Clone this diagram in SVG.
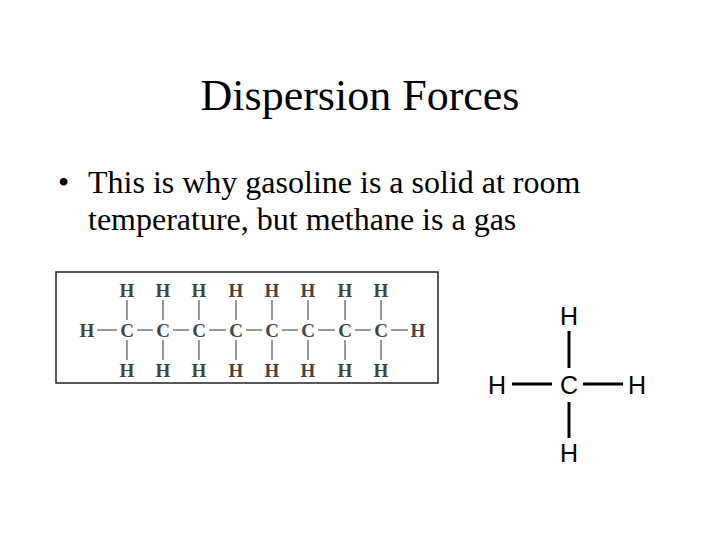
<svg xmlns="http://www.w3.org/2000/svg" width="720" height="540" viewBox="0 0 720 540">
<style>
.t{font-family:"Liberation Serif",serif;fill:#000}
.o{font-family:"Liberation Serif",serif;font-size:19px;font-weight:bold;fill:#444;text-anchor:middle}
.ob{stroke:#777;stroke-width:1.5}
.m{font-family:"Liberation Sans",sans-serif;font-size:25px;fill:#000;text-anchor:middle}
.mb{stroke:#000;stroke-width:3}
</style>
<rect width="720" height="540" fill="#fff"/>
<text class="t" x="360" y="110" font-size="44" text-anchor="middle">Dispersion Forces</text>
<text class="t" x="58" y="193" font-size="32">•</text>
<text class="t" x="88" y="193" font-size="32">This is why gasoline is a solid at room</text>
<text class="t" x="88" y="230" font-size="32">temperature, but methane is a gas</text>
<g id="octane">
<rect x="56" y="272" width="382" height="111" fill="#fff" stroke="#222" stroke-width="1.5"/>
<g class="ob">
<line x1="97" y1="330" x2="117" y2="330"/><line x1="391" y1="330" x2="408" y2="330"/>
<line x1="137" y1="330" x2="153" y2="330"/><line x1="173" y1="330" x2="189" y2="330"/><line x1="209" y1="330" x2="226" y2="330"/><line x1="246" y1="330" x2="262" y2="330"/><line x1="282" y1="330" x2="298" y2="330"/><line x1="318" y1="330" x2="335" y2="330"/><line x1="355" y1="330" x2="371" y2="330"/>
<path d="M127 300V320M127 340V360M163 300V320M163 340V360M199 300V320M199 340V360M236 300V320M236 340V360M272 300V320M272 340V360M308 300V320M308 340V360M345 300V320M345 340V360M381 300V320M381 340V360"/>
</g>
<g class="o">
<text x="87" y="337">H</text><text x="418" y="337">H</text>
<text x="127" y="337">C</text><text x="163" y="337">C</text><text x="199" y="337">C</text><text x="236" y="337">C</text><text x="272" y="337">C</text><text x="308" y="337">C</text><text x="345" y="337">C</text><text x="381" y="337">C</text>
<text x="127" y="297">H</text><text x="163" y="297">H</text><text x="199" y="297">H</text><text x="236" y="297">H</text><text x="272" y="297">H</text><text x="308" y="297">H</text><text x="345" y="297">H</text><text x="381" y="297">H</text>
<text x="127" y="377">H</text><text x="163" y="377">H</text><text x="199" y="377">H</text><text x="236" y="377">H</text><text x="272" y="377">H</text><text x="308" y="377">H</text><text x="345" y="377">H</text><text x="381" y="377">H</text>
</g>
</g>
<g id="methane">
<g class="mb"><line x1="569" y1="331" x2="569" y2="368"/><line x1="569" y1="402" x2="569" y2="438"/><line x1="512" y1="384" x2="552" y2="384"/><line x1="583" y1="384" x2="623" y2="384"/></g>
<text class="m" x="569" y="325">H</text>
<text class="m" x="569" y="394">C</text>
<text class="m" x="497" y="394">H</text>
<text class="m" x="637" y="394">H</text>
<text class="m" x="569" y="462">H</text>
</g>
</svg>
